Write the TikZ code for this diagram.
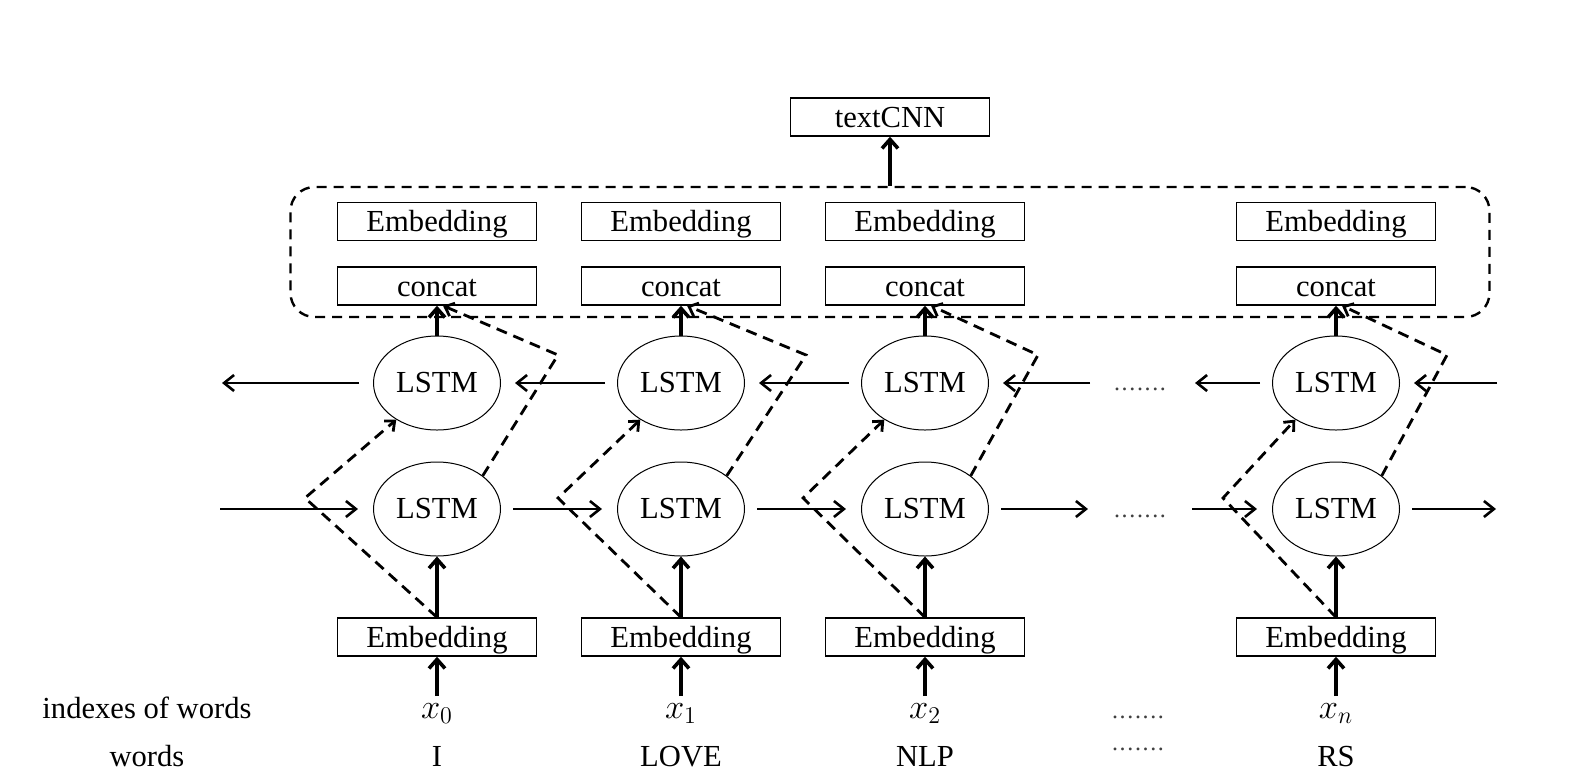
\documentclass[tikz,border=0pt]{standalone}
\usepackage{fontspec}
\setmainfont{Liberation Serif}
\usetikzlibrary{arrows.meta,shapes.geometric}
\newcommand{\sevendots}{{\fontsize{12}{12}\selectfont\color{black!75}\makebox[26pt][s]{.\hfil.\hfil.\hfil.\hfil.\hfil.\hfil.}}}
\begin{document}
\begin{tikzpicture}[x=0.5pt,y=-0.5pt,
  font=\fontsize{15.3}{18}\selectfont,
  box/.style={draw,line width=0.7pt,minimum width=99.5pt,minimum height=19pt,inner sep=0pt,text height=10pt,text depth=0pt},
  cell/.style={draw,ellipse,line width=0.5pt,minimum width=63.5pt,minimum height=47pt,inner sep=0pt},
  grp/.style={draw,line width=1.2pt,dash pattern=on 5pt off 3.5pt,rounded corners=12pt,minimum width=599.5pt,minimum height=65pt,inner sep=0pt},
  harr/.style={line width=1.3pt,-{Straight Barb[length=5pt,width=8pt]}},
  varr/.style={line width=1.8pt,-{Straight Barb[length=4.5pt,width=8pt]}},
  dsh/.style={line width=1.4pt,dash pattern=on 5.5pt off 3.5pt,-{Straight Barb[length=4pt,width=7pt]}},
  lbl/.style={anchor=base,inner sep=0pt},
  idx/.style={anchor=base,font=\fontsize{17}{18}\selectfont},
]
\useasboundingbox (0,0) rectangle (1574,783);

% top
\node[box] (tc) at (890,117) {textCNN};
\node[grp] (g) at (890,252) {};
\draw[varr] (g.north) -- (tc.south);

\foreach \i/\cx/\lx/\rx/\xs/\w in {1/437/305/558/0/I, 2/681/558/806/1/LOVE, 3/925/803/1038/2/NLP, 4/1336/1223/1447/n/RS} {
  \node[box] (te\i) at (\cx,221.5) {Embedding};
  \node[box] (cc\i) at (\cx,286) {concat};
  \node[cell] (u\i) at (\cx,383) {LSTM};
  \node[cell] (d\i) at (\cx,509) {LSTM};
  \node[box] (be\i) at (\cx,637) {Embedding};
  \node[idx] (x\i) at (\cx,718) {$x_{\xs}$};
  \node[lbl] (w\i) at (\cx,766) {\w};
  \coordinate (lp\i) at (\lx,498);
  \coordinate (rp\i) at (\rx,355);
  \draw[varr] (be\i.north) -- (d\i.south);
  \draw[varr] (u\i.north) -- (cc\i.south);
  \draw[varr] (x\i.north) -- (be\i.south);
  \draw[dsh] (be\i.north) -- (lp\i) -- (u\i.222);
  \draw[dsh] (d\i.36) -- (rp\i) -- ([xshift=3pt]cc\i.south);
}

% left labels
\node[lbl] (li) at (147,718) {indexes of words};
\node[lbl] (lw) at (147,766) {words};

% dots
\node[lbl] (dt1) at (1140,390) {\sevendots};
\node[lbl] (dt2) at (1140,517) {\sevendots};
\node[lbl] (dt3) at (1138,718) {\sevendots};
\node[lbl] (dt4) at (1138,750) {\sevendots};

% backward row
\coordinate (ul) at (222,383);
\coordinate (um) at (1090,383);
\coordinate (um2) at (1195,383);
\coordinate (ur) at (1497,383);
\draw[harr,shorten <=7pt] (u1.west) -- (ul);
\draw[harr,shorten <=6pt,shorten >=7pt] (u2.west) -- (u1.east);
\draw[harr,shorten <=6pt,shorten >=7pt] (u3.west) -- (u2.east);
\draw[harr,shorten >=7pt] (um) -- (u3.east);
\draw[harr,shorten <=6pt] (u4.west) -- (um2);
\draw[harr,shorten >=7pt] (ur) -- (u4.east);

% forward row
\coordinate (dl) at (220,509);
\coordinate (dm) at (1088,509);
\coordinate (dm2) at (1192,509);
\coordinate (dr) at (1496,509);
\draw[harr,shorten >=7.5pt] (dl) -- (d1.west);
\draw[harr,shorten <=6pt,shorten >=7.5pt] (d1.east) -- (d2.west);
\draw[harr,shorten <=6pt,shorten >=7.5pt] (d2.east) -- (d3.west);
\draw[harr,shorten <=6pt] (d3.east) -- (dm);
\draw[harr,shorten >=7.5pt] (dm2) -- (d4.west);
\draw[harr,shorten <=6pt] (d4.east) -- (dr);
\end{tikzpicture}
\end{document}
